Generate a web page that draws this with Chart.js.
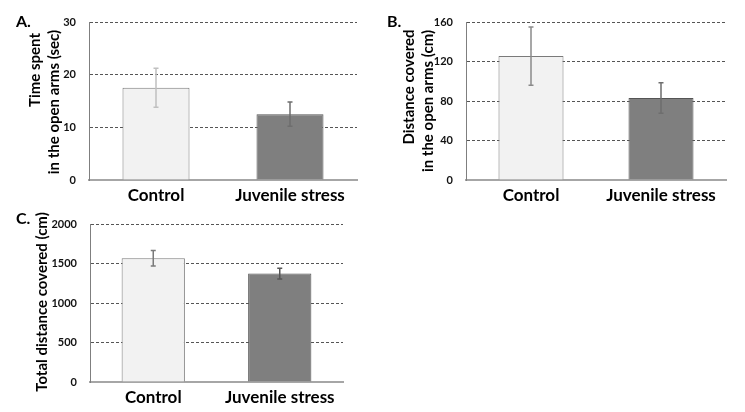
<!DOCTYPE html>
<html>
<head>
<meta charset="utf-8">
<script src="https://cdn.jsdelivr.net/npm/chart.js@4/dist/chart.umd.min.js"></script>
<style>
    body { margin: 0; background: #fff; width: 745px; height: 412px; position: relative; overflow: hidden; font-family: Lato, sans-serif; }
    canvas { position: absolute; }
    .lbl { position: absolute; font-weight: bold; color: #000; white-space: nowrap; line-height: 1; }
    .panel { font-size: 16px; }
    .ytitle { font-size: 15px; transform: translate(-50%, -50%) rotate(-90deg); }
</style>
</head>
<body>
<canvas id="chartA" width="370" height="210" style="left:0;top:0;"></canvas>
<canvas id="chartB" width="375" height="210" style="left:370px;top:0;"></canvas>
<canvas id="chartC" width="370" height="212" style="left:0;top:200px;"></canvas>

<div class="lbl panel" style="left:16px;top:13px;">A.</div>
<div class="lbl panel" style="left:387px;top:13px;">B.</div>
<div class="lbl panel" style="left:16px;top:210px;">C.</div>

<div class="lbl ytitle" style="left:34px;top:70px;">Time spent</div>
<div class="lbl ytitle" style="left:53px;top:102px;">in the open arms (sec)</div>
<div class="lbl ytitle" style="left:408px;top:87px;">Distance covered</div>
<div class="lbl ytitle" style="left:427px;top:101px;">in the open arms (cm)</div>
<div class="lbl ytitle" style="left:41px;top:302px;">Total distance covered (cm)</div>

<script>
// Groups
const groups = ['Control', 'Juvenile stress'];

// A. time spent in open arms (sec)
const timeMeans = [17.5, 12.5];
const timeErr = [3.7, 2.3];
const timeTicks = [0, 10, 20, 30];

// B. distance covered in open arms (cm)
const openDistMeans = [125.5, 83];
const openDistErr = [29.5, 15.5];
const openDistTicks = [0, 40, 80, 120, 160];

// C. total distance covered (cm)
const totalDistMeans = [1565, 1372];
const totalDistErr = [98, 68];
const totalDistTicks = [0, 500, 1000, 1500, 2000];

const barFill = ['#f2f2f2', '#7f7f7f'];
const barLine = ['#7a7a7a', '#555555'];

// error bar plugin, draws mean +/- err through the y scale
const errorBars = {
    id: 'errorBars',
    afterDatasetsDraw(chart, args, opts) {
        const ctx = chart.ctx;
        const y = chart.scales.y;
        const meta = chart.getDatasetMeta(0);
        const means = chart.data.datasets[0].data;
        ctx.save();
        ctx.lineWidth = 1.5;
        meta.data.forEach((bar, i) => {
            const top = y.getPixelForValue(means[i] + opts.err[i]);
            const bot = y.getPixelForValue(means[i] - opts.err[i]);
            ctx.strokeStyle = opts.colors[i];
            ctx.beginPath();
            ctx.moveTo(bar.x, top);
            ctx.lineTo(bar.x, bot);
            ctx.moveTo(bar.x - 2.5, top);
            ctx.lineTo(bar.x + 2.5, top);
            ctx.moveTo(bar.x - 2.5, bot);
            ctx.lineTo(bar.x + 2.5, bot);
            ctx.stroke();
        });
        ctx.restore();
    }
};

function makeChart(id, means, err, ticks, yWidth, pad, errColors) {
    const max = ticks[ticks.length - 1];
    const step = ticks[1] - ticks[0];
    return new Chart(document.getElementById(id), {
        type: 'bar',
        data: {
            labels: groups,
            datasets: [{
                data: means,
                backgroundColor: barFill,
                borderColor: barLine,
                borderWidth: 1,
                barPercentage: 0.5,
                categoryPercentage: 1.0
            }]
        },
        options: {
            responsive: false,
            animation: false,
            layout: { padding: pad },
            plugins: {
                legend: { display: false },
                tooltip: { enabled: false },
                errorBars: { err: err, colors: errColors }
            },
            scales: {
                x: {
                    grid: { display: false },
                    border: { display: true, color: '#a6a6a6', width: 2 },
                    ticks: { color: '#000', padding: -3, font: { family: 'Lato', size: 17, weight: 'bold' } },
                    afterFit(scale) { scale.height = 30; }
                },
                y: {
                    min: 0,
                    max: max,
                    grid: { color: '#555', drawTicks: false, lineWidth: 1 },
                    border: { display: true, color: '#7f7f7f', width: 1, dash: [3, 2] },
                    ticks: {
                        stepSize: step,
                        color: '#111',
                        padding: 13,
                        font: { family: 'Lato', size: 11, weight: 'bold' },
                        callback: (v) => String(v)
                    },
                    afterFit(scale) { scale.width = yWidth; }
                }
            }
        },
        plugins: [errorBars]
    });
}

makeChart('chartA', timeMeans, timeErr, timeTicks, 89,
    { left: 0, top: 22, right: 13, bottom: 0 }, ['#c0c0c0', '#6e6e6e']);
makeChart('chartB', openDistMeans, openDistErr, openDistTicks, 96,
    { left: 0, top: 22, right: 19, bottom: 0 }, ['#8a8a8a', '#6e6e6e']);
makeChart('chartC', totalDistMeans, totalDistErr, totalDistTicks, 90,
    { left: 0, top: 24, right: 27, bottom: 0 }, ['#7a7a7a', '#555555']);
</script>
</body>
</html>
